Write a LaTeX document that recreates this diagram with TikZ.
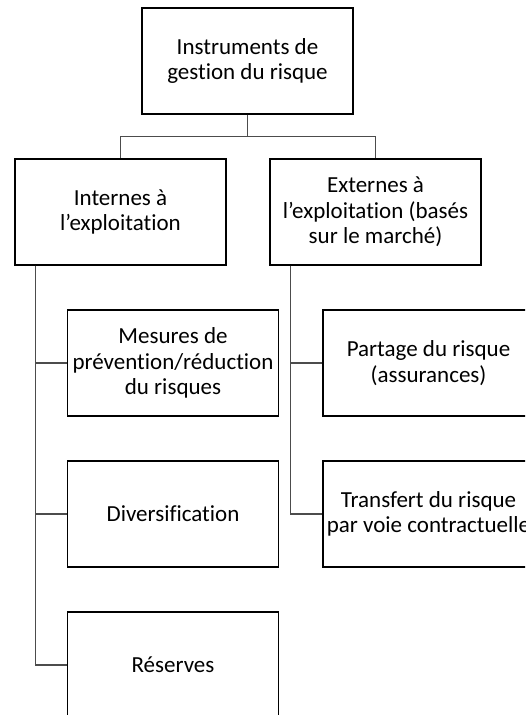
\documentclass[tikz,border=0pt]{standalone}
\usepackage{fontspec}
\setmainfont{Carlito}[Ligatures=NoCommon]
\usepackage{tikz}
\usetikzlibrary{positioning}
\tikzstyle{box} = [rectangle, draw=black, line width=1.1pt, fill=white, minimum width=211pt, minimum height=106pt, inner sep=0pt, align=center, font=\fontsize{23}{25.4}\selectfont]
\tikzstyle{link} = [draw=black!70, line width=1.1pt]

\begin{document}
\begin{tikzpicture}[x=1pt, y=1pt, node distance = 151pt]
    \useasboundingbox (0,0) rectangle (525,715);
    \clip (0,0) rectangle (525,715);
    \node[box] (top) at (247.5,654) {Instruments de\\gestion du risque};
    \node[box, below of=top, xshift=-127pt] (intern) {Internes à\\l’exploitation};
    \node[box, below of=top, xshift=128pt] (extern) {Externes à\\l’exploitation (basés\\sur le marché)};
    \node[box, below of=intern, xshift=52.5pt] (mesures) {Mesures de\\prévention/réduction\\du risques};
    \node[box, below of=mesures] (divers) {Diversification};
    \node[box, below of=divers] (reserves) {Réserves};
    \node[box, below of=extern, xshift=53pt] (partage) {Partage du risque\\(assurances)};
    \node[box, below of=partage] (transfert) {Transfert du risque\\par voie contractuelle};

    \coordinate (bus) at ([yshift=-22pt]top.south);
    \coordinate (itrunk) at ([xshift=21pt]intern.south west);
    \coordinate (etrunk) at ([xshift=21pt]extern.south west);

    \path[link] (top.south) -- (bus) -| (intern.north);
    \path[link] (bus) -| (extern.north);

    \path[link] (itrunk) |- (mesures.west);
    \path[link] (itrunk) |- (divers.west);
    \path[link] (itrunk) |- (reserves.west);
    \path[link] (etrunk) |- (partage.west);
    \path[link] (etrunk) |- (transfert.west);
\end{tikzpicture}
\end{document}
